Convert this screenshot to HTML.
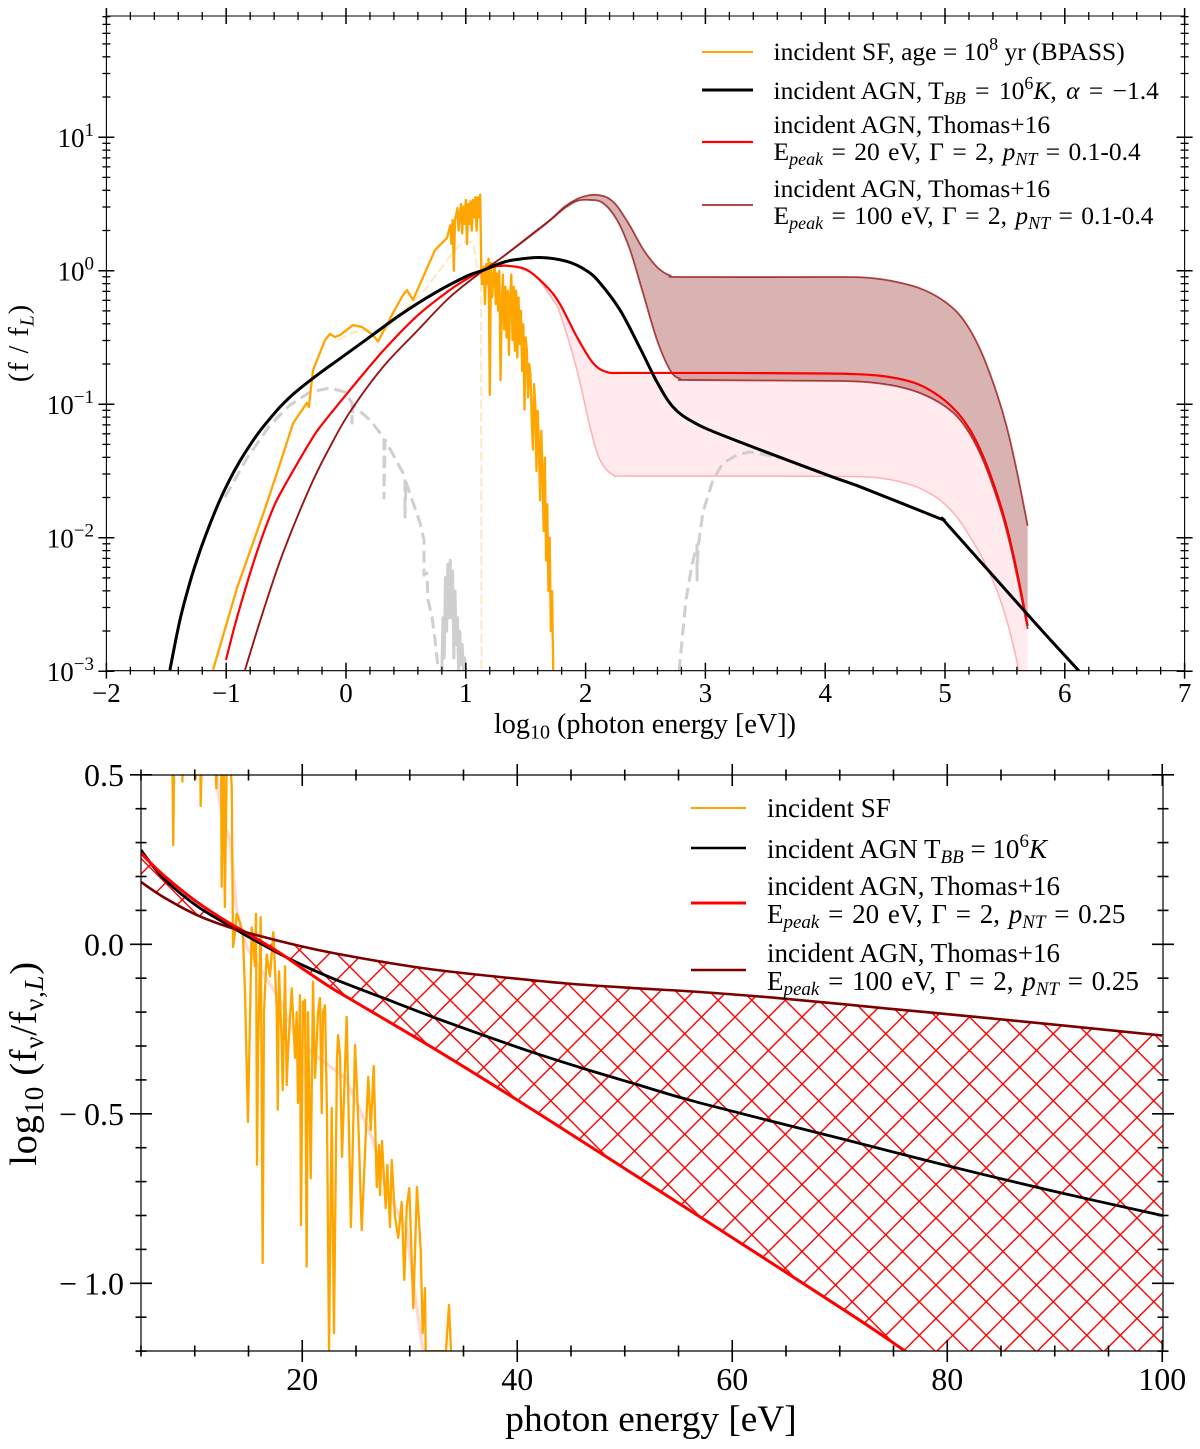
<!DOCTYPE html>
<html lang="en">
<head>
<meta charset="utf-8">
<title>Incident spectra comparison</title>
<style>
html,body{margin:0;padding:0;background:#fff;width:1200px;height:1449px;overflow:hidden}
svg{display:block}
text{font-family:"Liberation Serif","DejaVu Serif",serif;fill:#000}
.lg1{font-size:25.5px}
.lg2{font-size:27px}
.w2{word-spacing:2px}
.w3{word-spacing:3px}
</style>
</head>
<body>
<svg id="fig" xmlns="http://www.w3.org/2000/svg" width="1200" height="1449" viewBox="0 0 1200 1449">
<defs>
<clipPath id="clipTop"><rect x="106.4" y="16" width="1078.2" height="654.7"/></clipPath>
<clipPath id="clipBottom"><rect x="141" y="775" width="1022" height="576"/></clipPath>
<pattern id="hatch" patternUnits="userSpaceOnUse" width="33.5" height="33.5" patternTransform="translate(936 1151)">
<path d="M0 0L33.5 33.5M33.5 0L0 33.5" stroke="#ff0000" stroke-width="1.4" fill="none"/>
</pattern>
</defs>
<g id="topMarks" clip-path="url(#clipTop)"></g>
<g id="bottomMarks" clip-path="url(#clipBottom)"></g>
<g id="topAxes"></g>
<g id="bottomAxes"></g>

<text x="645" y="733" font-size="28.2" text-anchor="middle">log<tspan font-size="20" dy="5.5">10</tspan><tspan dy="-5.5"> (photon energy [eV])</tspan></text>
<text transform="translate(28 343) rotate(-90)" font-size="28" letter-spacing="1" text-anchor="middle">(f / f<tspan font-size="20" dy="5.5" font-style="italic">L</tspan><tspan dy="-5.5">)</tspan></text>
<text x="651" y="1431" font-size="37.3" text-anchor="middle">photon energy [eV]</text>
<text transform="translate(36 1063.5) rotate(-90)" font-size="38.5" letter-spacing="0.7" text-anchor="middle">log<tspan font-size="27" dy="7">10</tspan><tspan dy="-7"> (f</tspan><tspan font-size="27" dy="7">ν</tspan><tspan dy="-7">/f</tspan><tspan font-size="27" dy="7">ν,<tspan font-style="italic">L</tspan></tspan><tspan dy="-7">)</tspan></text>

<g>
<line x1="702" x2="753" y1="52" y2="52" stroke="#ffa500" stroke-width="2"/>
<text class="lg1" x="773.5" y="60">incident SF, age = 10<tspan font-size="18" dy="-10">8</tspan><tspan dy="10"> yr (BPASS)</tspan></text>
<line x1="702" x2="753" y1="90" y2="90" stroke="#000" stroke-width="3"/>
<text class="lg1" x="773.5" y="99">incident AGN, T<tspan font-size="18" dy="5" font-style="italic">BB</tspan><tspan class="w3" dy="-5"> = 10</tspan><tspan font-size="18" dy="-10">6</tspan><tspan dy="10" font-style="italic">K</tspan><tspan class="w3">, </tspan><tspan font-style="italic">α</tspan><tspan class="w3"> = −1.4</tspan></text>
<line x1="702" x2="753" y1="142" y2="142" stroke="#ff0000" stroke-width="2.2"/>
<text class="lg1" x="773.5" y="133">incident AGN, Thomas+16</text>
<text class="lg1 w2" x="773.5" y="160">E<tspan font-size="18" dy="5" font-style="italic">peak</tspan><tspan dy="-5"> = 20 eV, Γ = 2, </tspan><tspan font-style="italic">p</tspan><tspan font-size="18" dy="5" font-style="italic">NT</tspan><tspan dy="-5"> = 0.1-0.4</tspan></text>
<line x1="702" x2="753" y1="205" y2="205" stroke="#8b0000" stroke-opacity="0.7" stroke-width="2"/>
<text class="lg1" x="773.5" y="197">incident AGN, Thomas+16</text>
<text class="lg1 w2" x="773.5" y="224">E<tspan font-size="18" dy="5" font-style="italic">peak</tspan><tspan dy="-5"> = 100 eV, Γ = 2, </tspan><tspan font-style="italic">p</tspan><tspan font-size="18" dy="5" font-style="italic">NT</tspan><tspan dy="-5"> = 0.1-0.4</tspan></text>
</g>

<g>
<line x1="691" x2="746" y1="808" y2="808" stroke="#ffa500" stroke-width="2"/>
<text class="lg2" x="767" y="817">incident SF</text>
<line x1="691" x2="746" y1="848" y2="848" stroke="#000" stroke-width="2.5"/>
<text class="lg2" x="767" y="858">incident AGN T<tspan font-size="19" dy="5" font-style="italic">BB</tspan><tspan dy="-5"> = 10</tspan><tspan font-size="19" dy="-11">6</tspan><tspan dy="11" font-style="italic">K</tspan></text>
<line x1="691" x2="746" y1="903" y2="903" stroke="#ff0000" stroke-width="3"/>
<text class="lg2" x="767" y="895">incident AGN, Thomas+16</text>
<text class="lg2 w2" x="767" y="923">E<tspan font-size="19" dy="5" font-style="italic">peak</tspan><tspan dy="-5"> = 20 eV, Γ = 2, </tspan><tspan font-style="italic">p</tspan><tspan font-size="19" dy="5" font-style="italic">NT</tspan><tspan dy="-5"> = 0.25</tspan></text>
<line x1="691" x2="746" y1="970" y2="970" stroke="#7b0000" stroke-width="2.6"/>
<text class="lg2" x="767" y="962">incident AGN, Thomas+16</text>
<text class="lg2 w2" x="767" y="990">E<tspan font-size="19" dy="5" font-style="italic">peak</tspan><tspan dy="-5"> = 100 eV, Γ = 2, </tspan><tspan font-style="italic">p</tspan><tspan font-size="19" dy="5" font-style="italic">NT</tspan><tspan dy="-5"> = 0.25</tspan></text>
</g>
</svg>

<script>
// ===== Top panel data: log10(photon energy / eV) and log10(f / f_L) =====
const topXTicks = [-2,-1,0,1,2,3,4,5,6,7];
const topXTickLabels = ['−2','−1','0','1','2','3','4','5','6','7'];
const topYDecades = [-3,-2,-1,0,1];
const topYExponents = ['−3','−2','−1','0','1'];

const agnBBLogE = [-1.47,-1.386,-1.302,-1.219,-1.135,-1.052,-0.968,-0.885,-0.801,-0.718,-0.634,-0.551,-0.467,-0.384,-0.217,-0.05,0.175,0.451,0.726,1.01,1.135,1.285,1.394,1.619,1.845,2.012,2.12,2.287,2.454,2.596,2.73,2.896,3.18,4.015,4.29,4.93,4.986,5.05,5.793,6.11,6.2];
const agnBBLogF = [-2.991,-2.616,-2.332,-2.1,-1.897,-1.717,-1.56,-1.425,-1.306,-1.2,-1.107,-1.021,-0.946,-0.882,-0.766,-0.658,-0.512,-0.332,-0.175,-0.04,0,0.054,0.08,0.099,0.069,-0.002,-0.092,-0.294,-0.579,-0.834,-1.021,-1.133,-1.246,-1.53,-1.618,-1.847,-1.867,-1.931,-2.679,-2.99,-3.08];

const thomas20HighLogE = [-1.002,-0.927,-0.843,-0.76,-0.676,-0.593,-0.509,-0.409,-0.3,-0.217,0.033,0.309,0.593,0.843,0.993,1.135,1.227,1.344,1.511,1.678,1.786,1.928,2.062,2.179,2.346,3.18,4.015,4.29,4.457,4.624,4.791,4.958,5.097,5.209,5.32,5.432,5.515,5.598,5.69];
const thomas20HighLogF = [-2.916,-2.654,-2.392,-2.152,-1.935,-1.748,-1.605,-1.448,-1.283,-1.171,-0.894,-0.601,-0.339,-0.16,-0.07,0,0.028,0.037,0.005,-0.122,-0.25,-0.497,-0.691,-0.759,-0.766,-0.766,-0.77,-0.776,-0.787,-0.811,-0.856,-0.944,-1.056,-1.193,-1.393,-1.667,-1.918,-2.242,-2.66];

const thomas20LowLogE = [-1.002,-0.927,-0.843,-0.76,-0.676,-0.593,-0.509,-0.409,-0.3,-0.217,0.033,0.309,0.593,0.843,0.993,1.135,1.227,1.344,1.561,1.728,1.786,1.928,2.037,2.12,2.229,2.346,3.18,4.015,4.29,4.457,4.624,4.791,4.958,5.097,5.209,5.32,5.432,5.515,5.598,5.612,5.69];
const thomas20LowLogF = [-2.916,-2.654,-2.392,-2.152,-1.935,-1.748,-1.605,-1.448,-1.283,-1.171,-0.894,-0.601,-0.339,-0.16,-0.07,0,0.028,0.037,-0.025,-0.22,-0.317,-0.744,-1.171,-1.418,-1.53,-1.538,-1.538,-1.54,-1.543,-1.553,-1.581,-1.63,-1.718,-1.843,-1.993,-2.167,-2.392,-2.617,-2.917,-3.004,-3.6];

const thomas100HighLogE = [-0.843,-0.693,-0.526,-0.3,-0.134,0.033,0.309,0.593,0.868,1.144,1.285,1.561,1.703,1.828,1.928,2.02,2.104,2.187,2.262,2.371,2.479,2.596,2.705,2.83,4.015,4.29,4.457,4.624,4.791,4.958,5.097,5.209,5.32,5.432,5.515,5.598,5.69];
const thomas100HighLogF = [-2.99,-2.556,-2.114,-1.62,-1.32,-1.058,-0.721,-0.452,-0.197,0,0.088,0.282,0.38,0.482,0.537,0.563,0.567,0.545,0.485,0.335,0.163,0.028,-0.036,-0.047,-0.047,-0.049,-0.062,-0.09,-0.132,-0.207,-0.307,-0.444,-0.644,-0.918,-1.169,-1.493,-1.91];

const thomas100LowLogE = [-0.843,-0.693,-0.526,-0.3,-0.134,0.033,0.309,0.593,0.868,1.144,1.285,1.561,1.703,1.828,1.928,2.037,2.145,2.262,2.371,2.479,2.596,2.705,2.788,2.896,4.015,4.29,4.457,4.624,4.791,4.958,5.097,5.209,5.32,5.432,5.515,5.598,5.69];
const thomas100LowLogF = [-2.99,-2.556,-2.114,-1.62,-1.32,-1.058,-0.721,-0.452,-0.197,0,0.088,0.275,0.376,0.47,0.522,0.53,0.507,0.38,0.155,-0.167,-0.519,-0.744,-0.811,-0.819,-0.825,-0.831,-0.845,-0.871,-0.916,-0.991,-1.088,-1.225,-1.425,-1.7,-1.95,-2.274,-2.684];

const sfLogE = [-1.11,-0.91,-0.69,-0.55,-0.442,-0.384,-0.326,-0.31,-0.275,-0.175,-0.134,-0.092,-0.05,0.058,0.134,0.225,0.267,0.392,0.476,0.509,0.559,0.743,0.843,0.87,0.88,0.89,0.9,0.91,0.92,0.93,0.94,0.95,0.96,0.97,0.98,0.99,1,1.01,1.02,1.03,1.04,1.05,1.06,1.07,1.08,1.09,1.1,1.11,1.12,1.13,1.135,1.14,1.15,1.16,1.17,1.18,1.19,1.2,1.21,1.22,1.23,1.24,1.25,1.26,1.27,1.28,1.29,1.3,1.31,1.32,1.33,1.34,1.35,1.36,1.37,1.38,1.39,1.4,1.41,1.42,1.43,1.44,1.45,1.46,1.47,1.48,1.49,1.5,1.51,1.52,1.53,1.54,1.55,1.56,1.57,1.58,1.59,1.6,1.61,1.62,1.63,1.64,1.65,1.66,1.67,1.68,1.69,1.7,1.71,1.72,1.73];
const sfLogF = [-2.99,-2.378,-1.82,-1.443,-1.144,-1.066,-0.99,-1.02,-0.744,-0.519,-0.474,-0.497,-0.482,-0.407,-0.422,-0.482,-0.53,-0.317,-0.182,-0.145,-0.22,0.155,0.245,0.34,0.2,0.38,0,0.38,0.42,0.47,0.3,0.42,0.5,0.28,0.48,0.35,0.53,0.2,0.5,0.35,0.52,0.3,0.53,0.4,0.55,0.3,0.55,0.4,0.57,-0.02,-0.1,-0.1,0.03,-0.25,0.05,-0.1,0.09,-0.93,0.06,-0.2,-0.05,0.05,-0.25,-0.02,-0.3,0,-0.82,-0.25,-0.03,-0.44,-0.12,-0.5,-0.15,-0.63,-0.2,-0.03,-0.52,-0.12,-0.6,-0.15,-0.65,-0.2,-0.55,-0.3,-0.75,-0.4,-1.04,-0.5,-0.6,-0.95,-0.7,-0.78,-1.1,-1.34,-0.85,-1,-1.5,-1.05,-1.3,-1.72,-1.2,-1.5,-1.95,-1.4,-2.17,-1.75,-2.4,-2,-2.7,-2.4,-3];

const sfPaleLogE = [-0.067,0.033,0.167,0.309,0.451,0.559,0.676,0.785,0.893,0.977,1.06,1.1,1.127,1.131];
const sfPaleLogF = [-0.519,-0.47,-0.44,-0.46,-0.317,-0.242,-0.122,0.005,0.14,0.215,0.215,0,-0.02,-3];

const greyLowLogE = [-1.01,-0.826,-0.634,-0.467,-0.3,-0.134,-0.008,0.05,0.05,0.058,0.2,0.317,0.317,0.326,0.476,0.492,0.492,0.501,0.618,0.651,0.651,0.676,0.684,0.718,0.743,0.768,0.785];
const greyLowLogF = [-1.695,-1.403,-1.156,-1.006,-0.909,-0.879,-0.909,-0.991,-1.141,-1.006,-1.118,-1.253,-1.703,-1.268,-1.515,-1.553,-1.845,-1.583,-1.89,-2.017,-2.28,-2.265,-2.466,-2.594,-2.766,-2.969,-3];
const greyBumpLogE = [0.8,0.81,0.82,0.83,0.84,0.85,0.86,0.87,0.88,0.89,0.9,0.91,0.92,0.93,0.94,0.95,0.96,0.97,0.98,0.99,1.0];
const greyBumpLogF = [-3,-2.6,-2.9,-2.3,-2.7,-2.2,-2.6,-2.17,-2.6,-2.25,-2.9,-2.4,-2.8,-2.6,-3,-2.7,-2.95,-2.8,-3,-2.9,-3];
const greyHighLogE = [2.78,2.838,2.888,2.93,2.93,2.938,2.98,3.063,3.147,3.264,3.372,3.514,3.623];
const greyHighLogF = [-3,-2.466,-2.204,-2.054,-2.317,-2.077,-1.807,-1.567,-1.44,-1.38,-1.358,-1.38,-1.403];

// ===== Bottom panel data: photon energy [eV] and log10(f_nu / f_nu,L) =====
const botXTicks = [20,40,60,80,100];
const botXTickLabels = ['20','40','60','80','100'];
const botYTicks = [0.5,0,-0.5,-1];
const botYTickLabels = ['0.5','0.0','−0.5','−1.0'];

const botBlackE = [5,7.05,10.2,13.28,14.86,17.93,19.79,22.86,27.51,32.16,36.81,41.47,46.12,50.77,57,70.95,80.26,89.56,100];
const botBlackV = [0.278,0.196,0.113,0.054,0.0245,-0.0286,-0.058,-0.101,-0.158,-0.2145,-0.2676,-0.319,-0.366,-0.41,-0.468,-0.58,-0.655,-0.726,-0.8];

const botRedE = [5,7.05,10.2,13.28,14.86,17.93,19.79,22.58,24.44,32.16,39.98,47.7,57,70.95,76.07,78];
const botRedV = [0.269,0.205,0.125,0.0614,0.033,-0.0257,-0.0667,-0.126,-0.161,-0.3058,-0.459,-0.615,-0.804,-1.09,-1.2,-1.25];

const botBrownE = [5,7.05,10.2,13.28,16.07,19.79,22.86,27.51,32.16,38.4,44.63,50.77,57,64.72,74.95,84.26,100];
const botBrownV = [0.184,0.14,0.0864,0.0496,0.0245,-0.005,-0.0257,-0.052,-0.0743,-0.0965,-0.1156,-0.129,-0.1407,-0.16,-0.191,-0.219,-0.269];

const botSfE = [7.9,8.0,8.1,8.8,8.85,8.9,10.0,10.1,10.2,10.5,10.55,10.7,11.9,12.0,12.2,12.45,12.5,12.7,12.8,13.0,13.2,13.44,13.56,13.74,13.9,14.21,14.49,14.67,14.95,15.3,15.6,15.7,15.79,15.88,16.13,16.32,16.44,16.69,17,17.31,17.62,17.72,17.84,18.09,18.18,18.4,18.55,18.67,19.02,19.33,19.48,19.6,19.79,19.88,20.07,20.26,20.41,20.53,20.79,21,21.19,21.47,21.65,21.81,21.93,22.12,22.3,22.49,22.74,22.95,23.23,23.33,23.51,23.7,24.13,24.53,24.91,25.19,25.53,26.14,26.37,26.65,26.93,27.14,27.23,27.42,27.76,27.91,28.16,28.32,28.63,28.93,29.25,29.49,29.72,29.96,30.33,30.67,31.02,31.2,31.42,31.48,33.37,33.65,33.84];
const botSfV = [0.6,0.293,0.6,0.6,0.48,0.6,0.6,0.49,0.6,0.6,0.408,0.6,0.6,0.46,0.6,0.6,0.17,0.6,0.11,0.6,0.6,0.464,-0.008,0.033,0.09,0.063,0.02,-0.135,-0.524,0.05,-0.065,0.09,-0.65,-0.34,0.08,-0.94,-0.2,-0.03,-0.095,0.036,-0.185,-0.488,-0.08,-0.29,-0.43,-0.065,-0.415,-0.32,-0.13,-0.335,-0.2,-0.468,-0.15,-0.828,-0.17,-0.164,-0.95,-0.2,-0.69,-0.11,-0.394,-0.2,-0.158,-0.498,-0.2,-0.18,-0.5,-1.2,-0.483,-1.147,-0.34,-0.268,-0.327,-0.627,-0.214,-0.834,-0.297,-0.5,-0.843,-0.391,-0.548,-0.359,-0.716,-0.592,-0.74,-0.58,-0.778,-0.651,-0.834,-0.636,-0.804,-0.866,-0.76,-0.99,-0.775,-0.719,-1.073,-0.716,-0.902,-1.147,-1.014,-1.2,-1.2,-1.064,-1.2];

const botSfSmoothE = [12.07,12.16,12.35,12.81,13.28,13.9,14.83,16.35,17.93,19.48,21.34,23.98,25.37,26.58,27.86,29.72,30.33,31.23];
const botSfSmoothV = [0.5,0.455,0.417,0.346,0.308,0.1,-0.008,-0.085,-0.164,-0.282,-0.33,-0.394,-0.489,-0.577,-0.725,-0.843,-1,-1.197];

// ===== Axis functions =====
const NS = 'http://www.w3.org/2000/svg';
const xTop = e => 346 + 119.8 * e;
const yTop = v => 270.7 - 133.5 * v;
const xBot = e => 141 + 10.75 * (e - 5);
const yBot = v => 944.3 - 339 * v;

function pts(xs, ys, fx, fy) { return xs.map((x, i) => [fx(x), fy(ys[i])]); }
function poly(p) { return p.map((q, i) => (i ? 'L' : 'M') + q[0].toFixed(2) + ' ' + q[1].toFixed(2)).join(''); }
function spline(p) {
  let d = '';
  for (let i = 0; i < p.length - 1; i++) {
    const a = p[Math.max(i - 1, 0)], b = p[i], c = p[i + 1], e = p[Math.min(i + 2, p.length - 1)];
    d += 'C' + (b[0] + (c[0] - a[0]) / 6).toFixed(2) + ' ' + (b[1] + (c[1] - a[1]) / 6).toFixed(2) + ' ' +
         (c[0] - (e[0] - b[0]) / 6).toFixed(2) + ' ' + (c[1] - (e[1] - b[1]) / 6).toFixed(2) + ' ' +
         c[0].toFixed(2) + ' ' + c[1].toFixed(2);
  }
  return d;
}
function start(p) { return 'M' + p[0][0].toFixed(2) + ' ' + p[0][1].toFixed(2); }
function smooth(p) { return start(p) + spline(p); }
function band(up, low) {
  const r = low.slice().reverse();
  return start(up) + spline(up) + 'L' + r[0][0].toFixed(2) + ' ' + r[0][1].toFixed(2) + spline(r) + 'Z';
}
function mark(parent, d, name, stroke, width, fill, extra) {
  const el = document.createElementNS(NS, 'path');
  el.setAttribute('d', d);
  el.setAttribute('stroke', stroke);
  el.setAttribute('stroke-width', width);
  el.setAttribute('fill', fill);
  el.setAttribute('stroke-linejoin', 'round');
  
  
  if (extra) Object.keys(extra).forEach(k => el.setAttribute(k, extra[k]));
  parent.appendChild(el);
  return el;
}
function tick(parent, x1, y1, x2, y2, width, name) {
  const el = document.createElementNS(NS, 'line');
  el.setAttribute('x1', x1);
  el.setAttribute('y1', y1);
  el.setAttribute('x2', x2);
  el.setAttribute('y2', y2);
  el.setAttribute('stroke', '#000');
  el.setAttribute('stroke-width', width);
  
  
  parent.appendChild(el);
}
function label(parent, x, y, size, anchor, str, name) {
  const el = document.createElementNS(NS, 'text');
  el.setAttribute('x', x);
  el.setAttribute('y', y);
  el.setAttribute('font-size', size);
  el.setAttribute('text-anchor', anchor);
  
  
  el.textContent = str;
  parent.appendChild(el);
  return el;
}

// ===== Top panel marks =====
const topG = document.getElementById('topMarks');
const t20h = pts(thomas20HighLogE, thomas20HighLogF, xTop, yTop);
const t20l = pts(thomas20LowLogE, thomas20LowLogF, xTop, yTop);
const t100h = pts(thomas100HighLogE, thomas100HighLogF, xTop, yTop);
const t100l = pts(thomas100LowLogE, thomas100LowLogF, xTop, yTop);

mark(topG, band(t20h, t20l), 'thomas-20-band', 'none', 0, 'rgba(255,105,125,0.14)');
mark(topG, band(t100h, t100l), 'thomas-100-band', 'none', 0, 'rgba(128,0,0,0.3)');
const greyDash = {'stroke-dasharray': '12 6'};
mark(topG, poly(pts(greyLowLogE, greyLowLogF, xTop, yTop)), 'attenuated-low-energy-line', '#cfcfcf', 3, 'none', greyDash);
mark(topG, poly(pts(greyBumpLogE, greyBumpLogF, xTop, yTop)), 'attenuated-bump-line', '#cfcfcf', 3, 'none');
mark(topG, poly(pts(greyHighLogE, greyHighLogF, xTop, yTop)), 'attenuated-high-energy-line', '#cfcfcf', 3, 'none', greyDash);
mark(topG, poly(pts(sfPaleLogE, sfPaleLogF, xTop, yTop)), 'faded-sf-line', '#fde8c6', 2, 'none', {'stroke-dasharray': '9 4'});
mark(topG, poly(pts(sfLogE, sfLogF, xTop, yTop)), 'incident-sf-line', '#ffa500', 2.3, 'none');
mark(topG, smooth(t20l), 'thomas-20-lower-line', '#ffb3b8', 1.6, 'none');
mark(topG, smooth(t100l), 'thomas-100-lower-line', '#8b0000', 1.8, 'none', {'stroke-opacity': '0.7'});
mark(topG, smooth(t100h), 'thomas-100-upper-line', '#8b0000', 1.8, 'none', {'stroke-opacity': '0.7'});
mark(topG, smooth(t20h), 'thomas-20-upper-line', '#ff0000', 2.2, 'none');
mark(topG, smooth(pts(agnBBLogE, agnBBLogF, xTop, yTop)), 'incident-agn-bb-line', '#000', 3, 'none');

// ===== Bottom panel marks =====
const botG = document.getElementById('bottomMarks');
const bRed = pts(botRedE, botRedV, xBot, yBot);
const bBrown = pts(botBrownE, botBrownV, xBot, yBot);
mark(botG, band(bBrown, bRed.concat([[xBot(100), yBot(-1.27)]])), 'hatched-band', 'none', 0, 'url(#hatch)');
mark(botG, poly(pts(botSfSmoothE, botSfSmoothV, xBot, yBot)), 'smoothed-sf-line', 'rgba(255,170,160,0.45)', 3.4, 'none');
mark(botG, poly(pts(botSfE, botSfV, xBot, yBot)), 'incident-sf-line', '#ffa500', 2.3, 'none');
mark(botG, smooth(pts(botBlackE, botBlackV, xBot, yBot)), 'incident-agn-bb-line', '#000', 2.8, 'none');
mark(botG, smooth(bRed), 'thomas-20-line', '#ff0000', 3, 'none');
mark(botG, smooth(bBrown), 'thomas-100-line', '#7b0000', 2.6, 'none');

// ===== Top axes =====
const topA = document.getElementById('topAxes');
const TL = 106.4, TR = 1184.6, TT = 16, TB = 670.7;
tick(topA, TL, TT, TR, TT, 1.1, 'top-axes-spine-top');
tick(topA, TL, TB, TR, TB, 1.1, 'top-axes-spine-bottom');
tick(topA, TL, TT, TL, TB, 1.1, 'top-axes-spine-left');
tick(topA, TR, TT, TR, TB, 1.1, 'top-axes-spine-right');
topXTicks.forEach((t, i) => {
  const x = xTop(t);
  tick(topA, x, TB - 8, x, TB + 8, 1.5, 'x-major-tick');
  tick(topA, x, TT - 8, x, TT + 8, 1.5, 'x-major-tick-top');
  label(topA, x, 702, 27, 'middle', topXTickLabels[i], 'x-tick-label');
  if (i < topXTicks.length - 1) {
    for (let k = 1; k < 5; k++) {
      const xm = xTop(t + k * 0.2);
      tick(topA, xm, TB - 4, xm, TB + 4, 1.3, 'x-minor-tick');
      tick(topA, xm, TT - 4, xm, TT + 4, 1.3, 'x-minor-tick-top');
    }
  }
});
topYDecades.forEach((d, i) => {
  const y = yTop(d);
  tick(topA, TL - 8, y, TL + 8, y, 1.5, 'y-major-tick');
  tick(topA, TR - 8, y, TR + 8, y, 1.5, 'y-major-tick-right');
  const tx = label(topA, 94, y + 10, 27, 'end', '10', 'y-tick-label');
  const sup = document.createElementNS(NS, 'tspan');
  sup.setAttribute('font-size', '19');
  sup.setAttribute('dy', '-11');
  sup.textContent = topYExponents[i];
  tx.appendChild(sup);
  for (let k = 2; k < 10; k++) {
    const ym = yTop(d + Math.log10(k));
    if (ym < TT - 1) continue;
    tick(topA, TL - 4, ym, TL + 4, ym, 1.3, 'y-minor-tick');
    tick(topA, TR - 4, ym, TR + 4, ym, 1.3, 'y-minor-tick-right');
  }
});

// ===== Bottom axes =====
const botA = document.getElementById('bottomAxes');
const BL = 141, BR = 1163, BT = 775, BB = 1351;
tick(botA, BL, BT, BR, BT, 1.2, 'bottom-axes-spine-top');
tick(botA, BL, BB, BR, BB, 1.2, 'bottom-axes-spine-bottom');
tick(botA, BL, BT, BL, BB, 1.2, 'bottom-axes-spine-left');
tick(botA, BR, BT, BR, BB, 1.2, 'bottom-axes-spine-right');
for (let e = 5; e <= 100; e += 5) {
  const major = e % 20 === 0;
  const h = major ? 11 : 5.5;
  const x = xBot(e);
  tick(botA, x, BB - h, x, BB + h, 1.6, 'x-tick');
  tick(botA, x, BT - h, x, BT + h, 1.6, 'x-tick-top');
}
botXTicks.forEach((t, i) => {
  label(botA, xBot(t), 1390, 32, 'middle', botXTickLabels[i], 'x-tick-label');
});
for (let n = -12; n <= 5; n++) {
  const v = n / 10;
  const major = n % 5 === 0;
  const h = major ? 11 : 5.5;
  const y = yBot(v);
  tick(botA, BL - h, y, BL + h, y, 1.6, 'y-tick');
  tick(botA, BR - h, y, BR + h, y, 1.6, 'y-tick-right');
}
botYTicks.forEach((t, i) => {
  const str = botYTickLabels[i];
  const tx = label(botA, 124, yBot(t) + 11, 32, 'end', str, 'y-tick-label');
  if (str[0] === '−') {
    tx.textContent = '−';
    const rest = document.createElementNS(NS, 'tspan');
    rest.setAttribute('dx', '7');
    rest.textContent = str.slice(1);
    tx.appendChild(rest);
  }
});
</script>
</body>
</html>
